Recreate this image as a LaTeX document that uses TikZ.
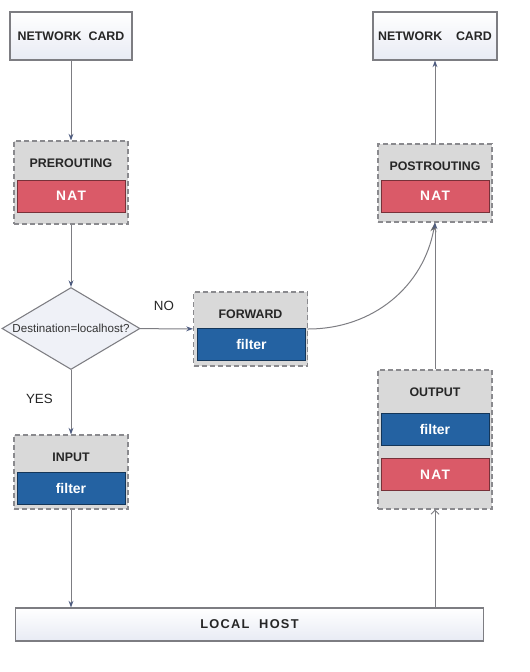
\documentclass[tikz,border=0pt]{standalone}
\usepackage{fontspec}
\setmainfont{Liberation Sans}
\newfontfamily\spaced[LetterSpace=10]{Liberation Sans}
\usetikzlibrary{arrows.meta,shapes.geometric}
\definecolor{hookgray}{RGB}{217,217,217}
\definecolor{natred}{RGB}{218,90,104}
\definecolor{filterblue}{RGB}{36,98,162}
\definecolor{cardfill}{RGB}{232,235,244}
\definecolor{edgegray}{RGB}{125,125,130}
\definecolor{tipblue}{RGB}{78,92,128}
\newdimen\pxu \pxu=0.75pt
\tikzset{
	card/.style={draw=edgegray,line width=0.8pt,top color=white,bottom color=cardfill,inner sep=0pt,minimum width=122\pxu,minimum height=48\pxu,text=black!85,font=\fontsize{9.3}{11}\selectfont\bfseries},
	hook/.style={draw=edgegray!90,line width=0.8pt,dash pattern=on 3.75pt off 2.25pt,fill=hookgray,inner sep=0pt,minimum width=114\pxu},
	hooktitle/.style={text=black!85,font=\fontsize{9.3}{11}\selectfont\bfseries},
	chainbox/.style={line width=0.6pt,inner sep=0pt,minimum width=108\pxu,minimum height=32\pxu,text=white},
	nat/.style={chainbox,draw=natred!55!black,fill=natred,font=\spaced\fontsize{10.3}{12}\selectfont\bfseries},
	filt/.style={chainbox,draw=filterblue!55!black,fill=filterblue,font=\fontsize{10.5}{12}\selectfont\bfseries},
	decision/.style={diamond,draw=edgegray,line width=0.8pt,fill=cardfill!70,aspect=1.68,inner sep=0pt,minimum width=138\pxu,minimum height=82\pxu,text=black!80,font=\fontsize{8.7}{10}\selectfont},
	branch/.style={text=black!85,font=\fontsize{10}{12}\selectfont},
	flow/.style={draw=edgegray,line width=0.75pt,-{Stealth[length=5pt,width=3.6pt,color=tipblue]}}
}
\begin{document}
\begin{tikzpicture}[x=0.75pt,y=-0.75pt]
	\useasboundingbox (0,0) rectangle (530,672);
	\node[card] (cardin) at (71,36) {NETWORK\ \ CARD};
	\node[card,minimum width=124\pxu] (cardout) at (435,36) {NETWORK\ \ \ \ CARD};
	% hooks with their titles
	\foreach \name/\x/\y/\h/\ty/\title in {pre/71/182.5/83/163/PREROUTING,fwd/250.5/329/74/314/FORWARD,inp/71/472/74/457/INPUT,post/435/183/78/166/POSTROUTING,out/435/439.5/139/392/OUTPUT}
	{
		\node[hook,minimum height=\h\pxu] (\name) at (\x,\y) {};
		\node[hooktitle] (\name title) at (\x,\ty) {\title};
	}
	\foreach \name/\x/\y in {prenat/71/196,postnat/435/196,outnat/435/474.5}
	\node[nat] (\name) at (\x,\y) {NAT};
	\foreach \name/\x/\y in {fwdfilter/251.5/344.5,inpfilter/71/488.5,outfilter/435/429.5}
	\node[filt] (\name) at (\x,\y) {filter};
	\node[decision] (dest) at (71,328.5) {Destination=localhost?};
	\node[card,minimum width=468\pxu,minimum height=33\pxu,font=\spaced\fontsize{9.6}{11}\selectfont\bfseries] (host) at (249.5,624.5) {LOCAL\ \ HOST};
	\draw[flow] (cardin) -- (pre);
	\draw[flow] (pre) -- (dest);
	\draw[flow] (dest) -- node[branch,pos=0.45,above=10pt] (no) {NO} (fwd);
	\draw[flow] (dest) -- node[branch,pos=0.45,left=10pt] (yes) {YES} (inp);
	\draw[flow] (inp) -- (inp |- host.north);
	\draw[flow,-{Straight Barb[length=3pt,width=6pt]}] (out |- host.north) -- (out);
	\draw[flow,-{Stealth[length=7pt,width=4.5pt,color=black!60]}] (fwd.east) to[out=0,in=-100] (post.south);
	\draw[flow] (out) -- (post);
	\draw[flow] (post) -- (cardout);
\end{tikzpicture}
\end{document}
